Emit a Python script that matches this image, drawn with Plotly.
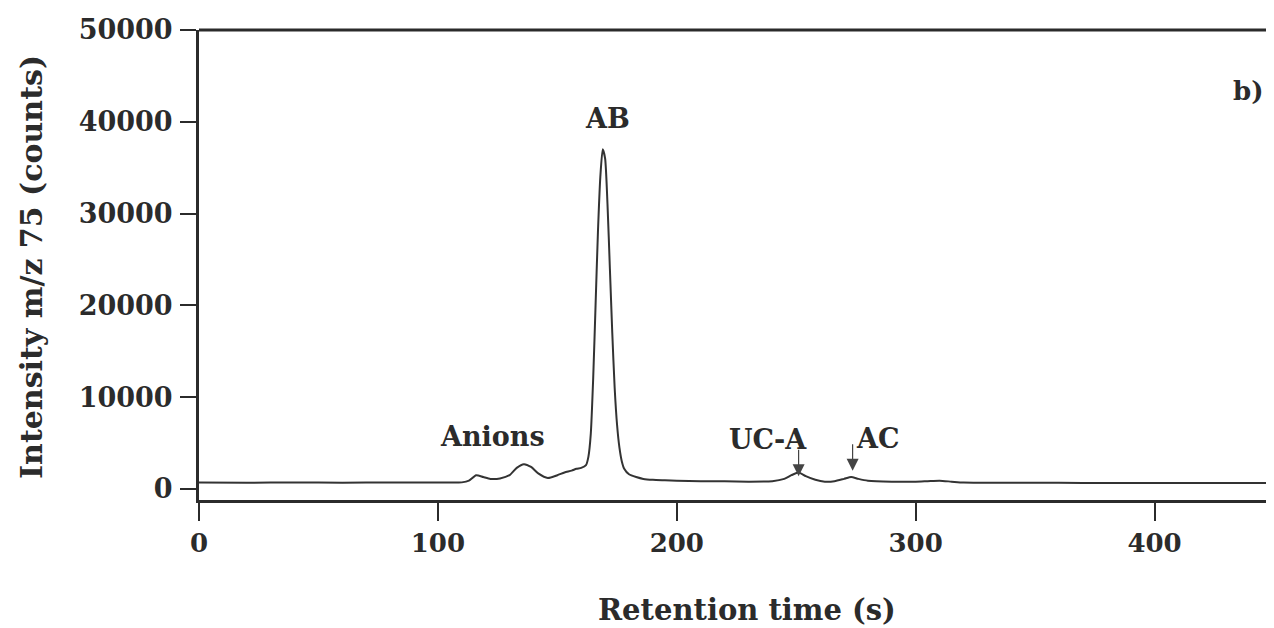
import plotly.graph_objects as go

# Retention time (s) and intensity (counts)
time_s = [0, 20, 40, 60, 80, 100, 110, 113, 116, 119, 122, 126, 130, 133, 136, 139, 142, 146,
          150, 153, 156, 158, 160, 162, 163, 164, 165, 166, 167, 168, 169, 170, 171, 172, 173,
          174, 175, 176, 177, 178, 180, 183, 186, 190, 195, 200, 210, 220, 230, 240, 245, 248,
          251, 254, 258, 262, 266, 270, 273, 276, 280, 290, 300, 305, 310, 315, 320, 340, 360,
          380, 400, 420, 450]
intensity = [700, 690, 700, 690, 700, 710, 720, 900, 1500, 1300, 1100, 1150, 1500, 2300, 2700,
             2400, 1700, 1200, 1500, 1800, 2000, 2200, 2300, 2600, 3500, 6000, 12000, 20000,
             28000, 34000, 37000, 36000, 31000, 24000, 17000, 11000, 7000, 4500, 3000, 2200,
             1600, 1300, 1100, 1000, 950, 900, 850, 830, 800, 850, 1100, 1500, 1800, 1400, 1000,
             800, 850, 1100, 1300, 1100, 900, 800, 800, 850, 900, 800, 700, 680, 670, 660, 660,
             650, 650]

# Peak labels
label_text = ["Anions", "AB", "UC-A", "AC"]
label_x = [123, 171, 238, 284]
label_y = [5700, 40400, 5400, 5500]

# Arrow tips (x, y) for marked peaks
arrow_x = [251, 273.6]
arrow_y = [1400, 2000]

x_ticks = [0, 100, 200, 300, 400]
y_ticks = [0, 10000, 20000, 30000, 40000, 50000]

FONT = "DejaVu Serif"
INK = "#2b2b2b"

fig = go.Figure()
fig.add_trace(go.Scatter(x=time_s, y=intensity, mode="lines",
                         line=dict(color="#333333", width=2, shape="spline", smoothing=0.6),
                         showlegend=False, hoverinfo="skip"))

for t, x, y in zip(label_text, label_x, label_y):
    fig.add_annotation(x=x, y=y, text="<b>%s</b>" % t, showarrow=False,
                       font=dict(family=FONT, size=27, color=INK), xanchor="center", yanchor="middle")

for x, y in zip(arrow_x, arrow_y):
    fig.add_annotation(x=x, y=y, ax=0, ay=-28, text="", showarrow=True, arrowhead=2,
                       arrowsize=2.0, arrowwidth=1.2, arrowcolor="#444444")

fig.add_annotation(xref="paper", yref="paper", x=0.976, y=0.87, text="<b>b)</b>", showarrow=False,
                   font=dict(family=FONT, size=26, color=INK), xanchor="center", yanchor="middle")

# axis titles as annotations for precise placement
fig.add_annotation(xref="paper", yref="paper", x=0.51, y=-0.234, text="<b>Retention time (s)</b>",
                   showarrow=False, font=dict(family=FONT, size=29, color=INK),
                   xanchor="center", yanchor="middle")
fig.add_annotation(xref="paper", yref="paper", x=-0.1553, y=0.496, text="<b>Intensity m/z 75 (counts)</b>",
                   showarrow=False, textangle=-90, font=dict(family=FONT, size=30, color=INK),
                   xanchor="center", yanchor="middle")

fig.update_layout(
    width=1266, height=620,
    margin=dict(l=191, r=0, t=22, b=128),
    paper_bgcolor="white", plot_bgcolor="white",
    font=dict(family=FONT, color=INK),
    xaxis=dict(range=[0, 450], tickvals=x_ticks, ticktext=["<b>%d</b>" % v for v in x_ticks],
               ticks="outside", ticklen=18, tickwidth=2, tickcolor=INK,
               showline=True, linecolor=INK, linewidth=3, mirror=False,
               showgrid=False, zeroline=False,
               tickfont=dict(family=FONT, size=26, color=INK)),
    yaxis=dict(range=[-1200, 50000], tickvals=y_ticks, ticktext=["<b>%d</b>" % v for v in y_ticks],
               ticks="outside", ticklen=16, tickwidth=2, tickcolor=INK, ticklabelstandoff=2,
               showline=True, linecolor=INK, linewidth=3,
               showgrid=False, zeroline=False,
               tickfont=dict(family=FONT, size=27, color=INK)),
    shapes=[dict(type="line", xref="paper", yref="paper", x0=0, x1=1, y0=1, y1=1,
                 line=dict(color=INK, width=3))],
)

fig.write_html("out.html")
